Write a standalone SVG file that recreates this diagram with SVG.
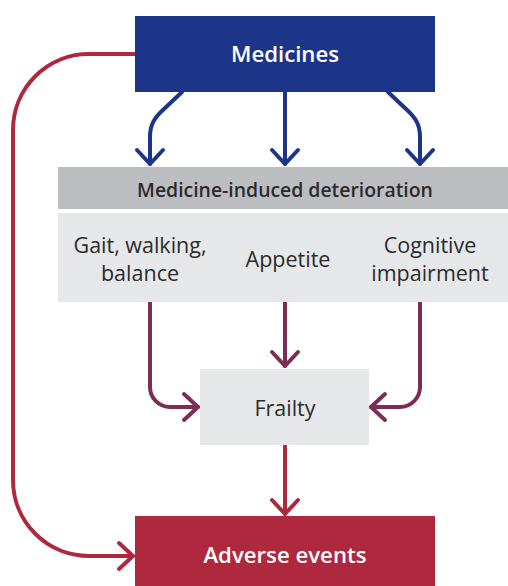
<svg xmlns="http://www.w3.org/2000/svg" width="508" height="586" viewBox="0 0 508 586">
<defs>
<style>
.lbl{font-family:"Open Sans","Liberation Sans",sans-serif;font-size:21.5px;fill:#2b2b2b;text-anchor:middle}
.hd{font-family:"Open Sans","Liberation Sans",sans-serif;font-size:19.4px;font-weight:600;fill:#2b2b2b;text-anchor:middle}
.wt{font-family:"Open Sans","Liberation Sans",sans-serif;font-size:22.2px;font-weight:600;fill:#ffffff;text-anchor:middle}
.c{fill:none;stroke-width:4;stroke-linecap:round;stroke-linejoin:round}
.blue{stroke:#1c3589}
.purp{stroke:#7b2d55}
.red{stroke:#ae293d}
</style>
<marker id="mb" markerUnits="userSpaceOnUse" markerWidth="40" markerHeight="40" refX="0" refY="0" viewBox="-20 -20 40 40" orient="auto" overflow="visible">
<path d="M-14,-13 L0,0 L-14,13" fill="none" stroke="#1c3589" stroke-width="4" stroke-linecap="round" stroke-linejoin="round"/>
</marker>
<marker id="mp" markerUnits="userSpaceOnUse" markerWidth="40" markerHeight="40" refX="0" refY="0" viewBox="-20 -20 40 40" orient="auto" overflow="visible">
<path d="M-14,-13 L0,0 L-14,13" fill="none" stroke="#7b2d55" stroke-width="4" stroke-linecap="round" stroke-linejoin="round"/>
</marker>
<marker id="mr" markerUnits="userSpaceOnUse" markerWidth="40" markerHeight="40" refX="0" refY="0" viewBox="-20 -20 40 40" orient="auto" overflow="visible">
<path d="M-14,-13 L0,0 L-14,13" fill="none" stroke="#ae293d" stroke-width="4" stroke-linecap="round" stroke-linejoin="round"/>
</marker>
</defs>
<rect width="508" height="586" fill="#ffffff"/>
<g id="connectors">
<path class="c red" d="M135,54 L89,54 A76,76 0 0 0 13,130 L13,480 A76,76 0 0 0 89,556 L133,556" marker-end="url(#mr)"/>
<path class="c blue" d="M182,92 L164,109 C154,118 150,125 150,137 L150,164" marker-end="url(#mb)"/>
<path class="c blue" d="M285,92 L285,164" marker-end="url(#mb)"/>
<path class="c blue" d="M388,92 L406,109 C416,118 420,125 420,137 L420,164" marker-end="url(#mb)"/>
<path class="c purp" d="M150,302 L150,387 A20,20 0 0 0 170,407 L198,407" marker-end="url(#mp)"/>
<path class="c purp" d="M285,302 L285,366" marker-end="url(#mp)"/>
<path class="c purp" d="M420,302 L420,387 A20,20 0 0 1 400,407 L371,407" marker-end="url(#mp)"/>
<path class="c red" d="M285,445 L285,514" marker-end="url(#mr)"/>
</g>
<g id="medicines">
<rect x="135" y="16" width="300" height="76" fill="#1c3589"/>
<text class="wt" x="285" y="62">Medicines</text>
</g>
<g id="deterioration-header">
<rect x="58" y="167" width="450" height="42" fill="#bcbdc0"/>
<text class="hd" x="285" y="197">Medicine-induced deterioration</text>
</g>
<g id="deterioration-items">
<rect x="58" y="213" width="450" height="89" fill="#e6e7e8"/>
<text class="lbl" x="140" y="253">Gait, walking,</text>
<text class="lbl" x="140" y="281">balance</text>
<text class="lbl" x="288" y="267">Appetite</text>
<text class="lbl" x="430" y="253">Cognitive</text>
<text class="lbl" x="430" y="281">impairment</text>
</g>
<g id="frailty">
<rect x="200" y="369" width="169" height="76" fill="#e6e7e8"/>
<text class="lbl" x="285" y="416">Frailty</text>
</g>
<g id="adverse-events">
<rect x="135" y="516" width="300" height="70" fill="#ae293d"/>
<text class="wt" x="285" y="563">Adverse events</text>
</g>
</svg>
